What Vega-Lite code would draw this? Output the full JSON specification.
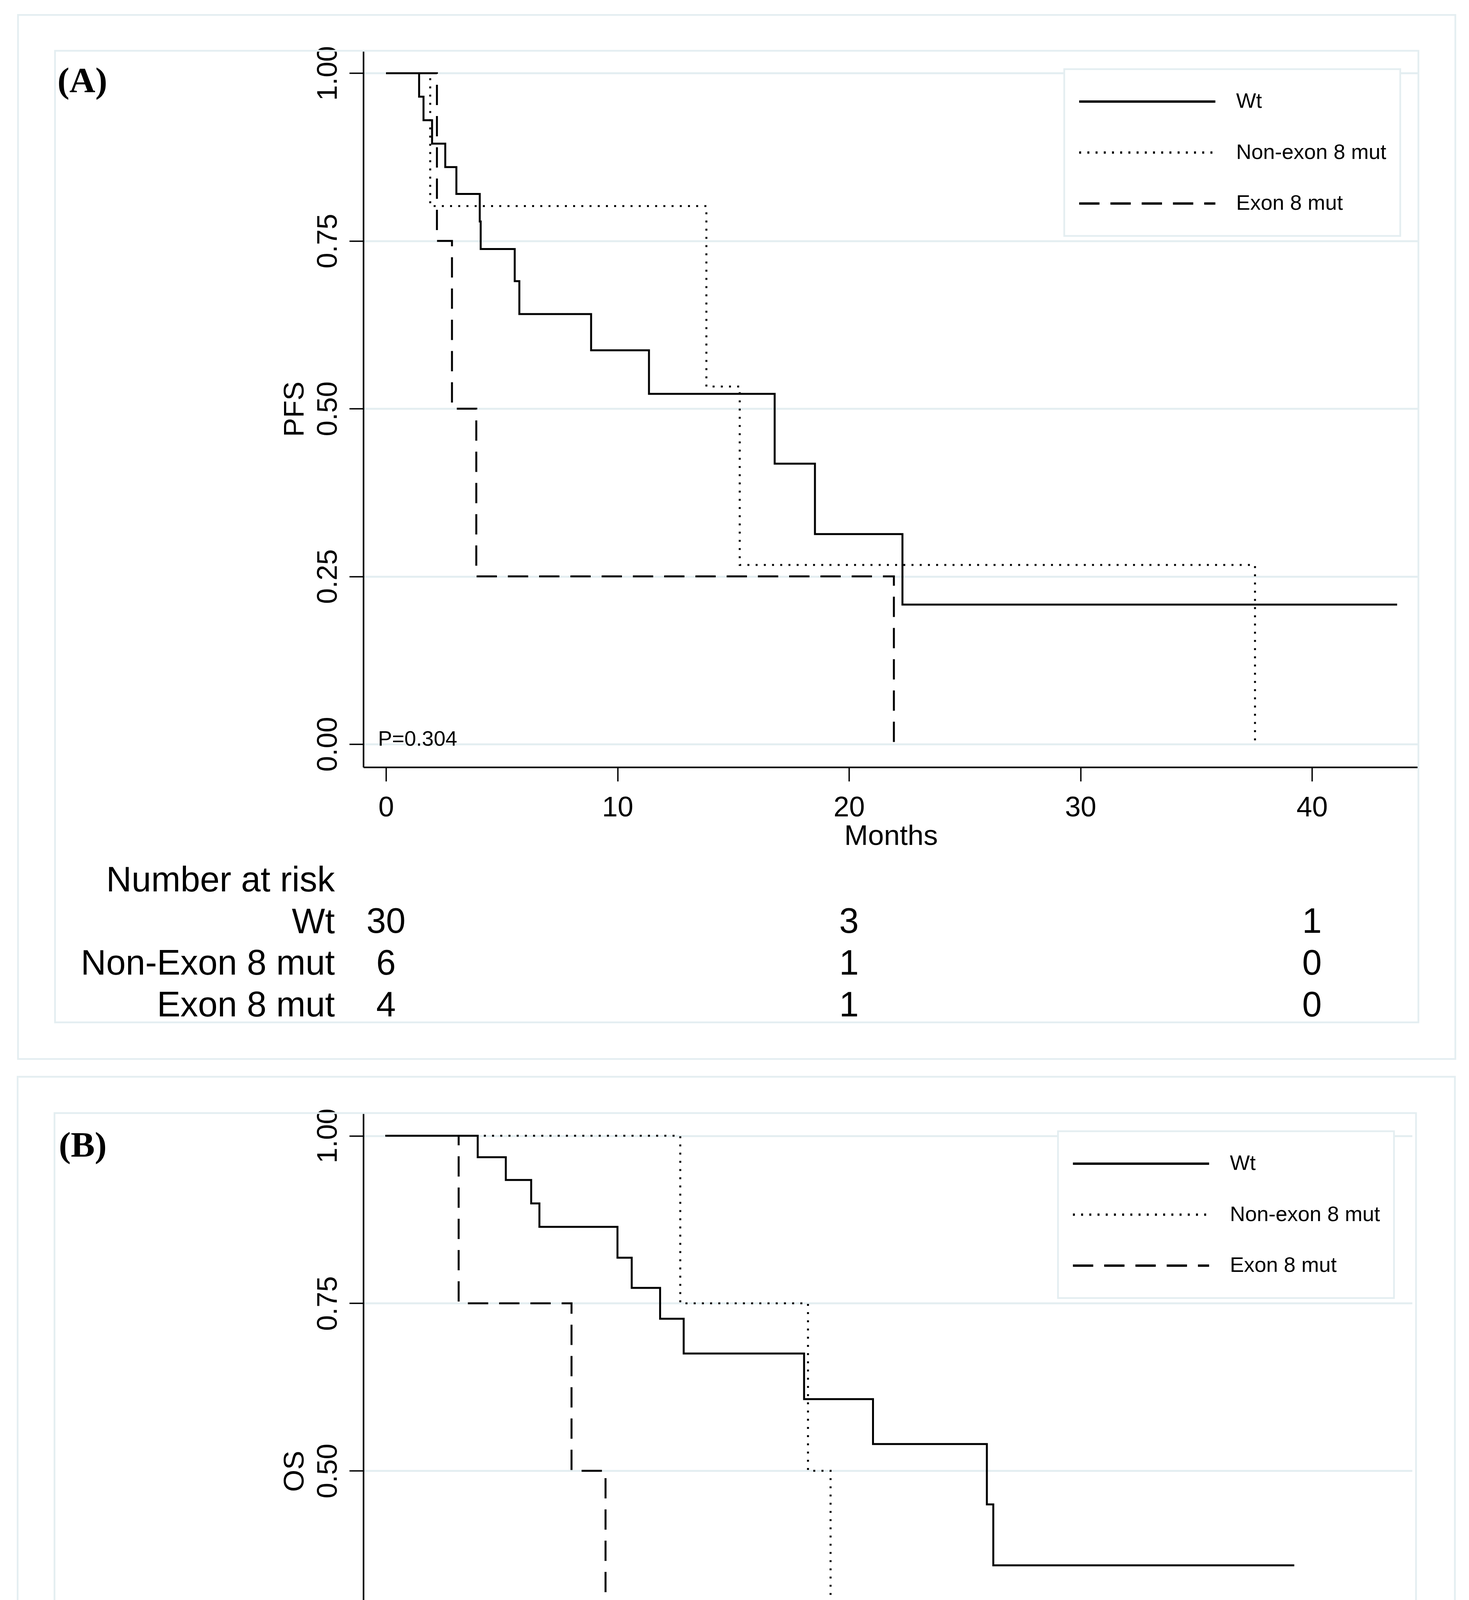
{
  "$schema": "https://vega.github.io/schema/vega-lite/v6.json",
  "background": "white",
  "padding": 0,
  "autosize": {"type": "pad"},
  "datasets": {
    "one": [{}],
    "kmA": [
      {"group": "Wt", "t": 0, "s": 1},
      {"group": "Wt", "t": 1.43, "s": 0.965},
      {"group": "Wt", "t": 1.62, "s": 0.930},
      {"group": "Wt", "t": 1.99, "s": 0.895},
      {"group": "Wt", "t": 2.56, "s": 0.860},
      {"group": "Wt", "t": 3.04, "s": 0.820},
      {"group": "Wt", "t": 4.05, "s": 0.779},
      {"group": "Wt", "t": 4.09, "s": 0.738},
      {"group": "Wt", "t": 5.56, "s": 0.690},
      {"group": "Wt", "t": 5.76, "s": 0.641},
      {"group": "Wt", "t": 8.86, "s": 0.587},
      {"group": "Wt", "t": 11.36, "s": 0.522},
      {"group": "Wt", "t": 16.79, "s": 0.418},
      {"group": "Wt", "t": 18.53, "s": 0.313},
      {"group": "Wt", "t": 22.31, "s": 0.208},
      {"group": "Wt", "t": 43.68, "s": 0.208},
      {"group": "Non-exon 8 mut", "t": 0, "s": 1},
      {"group": "Non-exon 8 mut", "t": 1.91, "s": 0.802},
      {"group": "Non-exon 8 mut", "t": 13.84, "s": 0.533},
      {"group": "Non-exon 8 mut", "t": 15.28, "s": 0.267},
      {"group": "Non-exon 8 mut", "t": 37.54, "s": 0},
      {"group": "Exon 8 mut", "t": 0, "s": 1},
      {"group": "Exon 8 mut", "t": 2.2, "s": 0.75},
      {"group": "Exon 8 mut", "t": 2.85, "s": 0.5},
      {"group": "Exon 8 mut", "t": 3.9, "s": 0.25},
      {"group": "Exon 8 mut", "t": 21.94, "s": 0}
    ],
    "kmB": [
      {"group": "Wt", "t": 0, "s": 1},
      {"group": "Wt", "t": 9.2, "s": 0.968},
      {"group": "Wt", "t": 12.0, "s": 0.934},
      {"group": "Wt", "t": 14.53, "s": 0.899},
      {"group": "Wt", "t": 15.35, "s": 0.864},
      {"group": "Wt", "t": 23.13, "s": 0.818},
      {"group": "Wt", "t": 24.55, "s": 0.773},
      {"group": "Wt", "t": 27.38, "s": 0.727},
      {"group": "Wt", "t": 29.73, "s": 0.675},
      {"group": "Wt", "t": 41.73, "s": 0.607},
      {"group": "Wt", "t": 48.6, "s": 0.540},
      {"group": "Wt", "t": 59.95, "s": 0.450},
      {"group": "Wt", "t": 60.59, "s": 0.359},
      {"group": "Wt", "t": 90.59, "s": 0.359},
      {"group": "Non-exon 8 mut", "t": 0, "s": 1},
      {"group": "Non-exon 8 mut", "t": 29.39, "s": 0.75},
      {"group": "Non-exon 8 mut", "t": 42.12, "s": 0.5},
      {"group": "Non-exon 8 mut", "t": 44.37, "s": 0},
      {"group": "Exon 8 mut", "t": 0, "s": 1},
      {"group": "Exon 8 mut", "t": 7.3, "s": 0.75},
      {"group": "Exon 8 mut", "t": 18.55, "s": 0.5},
      {"group": "Exon 8 mut", "t": 21.94, "s": 0.25},
      {"group": "Exon 8 mut", "t": 39.19, "s": 0.25}
    ],
    "riskA": [
      {"row": "Wt", "t": 0, "n": 30},
      {"row": "Wt", "t": 20, "n": 3},
      {"row": "Wt", "t": 40, "n": 1},
      {"row": "Non-Exon 8 mut", "t": 0, "n": 6},
      {"row": "Non-Exon 8 mut", "t": 20, "n": 1},
      {"row": "Non-Exon 8 mut", "t": 40, "n": 0},
      {"row": "Exon 8 mut", "t": 0, "n": 4},
      {"row": "Exon 8 mut", "t": 20, "n": 1},
      {"row": "Exon 8 mut", "t": 40, "n": 0}
    ],
    "riskB": [
      {"row": "Wt", "t": 0, "n": 31},
      {"row": "Wt", "t": 20, "n": 20},
      {"row": "Wt", "t": 40, "n": 11},
      {"row": "Wt", "t": 60, "n": 5},
      {"row": "Wt", "t": 80, "n": 2},
      {"row": "Wt", "t": 100, "n": 0},
      {"row": "Non-Exon 8 mut", "t": 0, "n": 6},
      {"row": "Non-Exon 8 mut", "t": 20, "n": 4},
      {"row": "Non-Exon 8 mut", "t": 40, "n": 3},
      {"row": "Non-Exon 8 mut", "t": 60, "n": 0},
      {"row": "Non-Exon 8 mut", "t": 80, "n": 0},
      {"row": "Non-Exon 8 mut", "t": 100, "n": 0},
      {"row": "Exon 8 mut", "t": 0, "n": 4},
      {"row": "Exon 8 mut", "t": 20, "n": 2},
      {"row": "Exon 8 mut", "t": 40, "n": 0},
      {"row": "Exon 8 mut", "t": 60, "n": 0},
      {"row": "Exon 8 mut", "t": 80, "n": 0},
      {"row": "Exon 8 mut", "t": 100, "n": 0}
    ],
    "pA": [{"label": "P=0.304"}],
    "pB": [{"label": "P=0.044"}],
    "labA": [{"label": "(A)"}],
    "labB": [{"label": "(B)"}]
  },
  "vconcat": [
    {
      "width": 2700.5,
      "height": 1834,
      "layer": [
        {
          "data": {"name": "one"},
          "mark": {"type": "rect", "opacity": 0},
          "encoding": {
            "x": {"datum": -16.667, "type": "quantitative", "scale": {"domain": [-0.979, 44.599], "nice": false, "zero": false}, "axis": {"title": "Months", "values": [0, 10, 20, 30, 40], "format": "d", "grid": false, "labelFlush": false, "labelPadding": 32, "titlePadding": 1}},
            "x2": {"datum": 46.793},
            "y": {"datum": 1.10912, "type": "quantitative", "scale": {"domain": [-0.03442, 1.03343], "nice": false, "zero": false}, "axis": {"title": "PFS", "values": [0, 0.25, 0.5, 0.75, 1], "format": ".2f", "grid": true, "labelAngle": 270, "labelAlign": "center", "labelBaseline": "alphabetic", "labelPadding": 32.5, "titleAngle": 270, "titleBaseline": "alphabetic", "titlePadding": 27, "labelFlush": false, "labelOverlap": false}},
            "y2": {"datum": -2.07166}
          }
        },
        {
          "data": {"name": "one"},
          "mark": {"type": "rect", "fill": "transparent", "stroke": "#E4EEF1", "strokeWidth": 4.5},
          "encoding": {
            "x": {"datum": -15.897, "type": "quantitative", "scale": {"domain": [-0.979, 44.599], "nice": false, "zero": false}, "axis": {"title": "Months", "values": [0, 10, 20, 30, 40], "format": "d", "grid": false, "labelFlush": false, "labelPadding": 32, "titlePadding": 1}},
            "x2": {"datum": 46.194},
            "y": {"datum": 1.08682, "type": "quantitative", "scale": {"domain": [-0.03442, 1.03343], "nice": false, "zero": false}, "axis": {"title": "PFS", "values": [0, 0.25, 0.5, 0.75, 1], "format": ".2f", "grid": true, "labelAngle": 270, "labelAlign": "center", "labelBaseline": "alphabetic", "labelPadding": 32.5, "titleAngle": 270, "titleBaseline": "alphabetic", "titlePadding": 27, "labelFlush": false, "labelOverlap": false}},
            "y2": {"datum": -0.46934}
          }
        },
        {
          "data": {"name": "one"},
          "mark": {"type": "rect", "fill": "transparent", "stroke": "#E4EEF1", "strokeWidth": 4.5},
          "encoding": {
            "x": {"datum": -14.299, "type": "quantitative", "scale": {"domain": [-0.979, 44.599], "nice": false, "zero": false}, "axis": {"title": "Months", "values": [0, 10, 20, 30, 40], "format": "d", "grid": false, "labelFlush": false, "labelPadding": 32, "titlePadding": 1}},
            "x2": {"datum": 44.599},
            "y": {"datum": 1.03343, "type": "quantitative", "scale": {"domain": [-0.03442, 1.03343], "nice": false, "zero": false}, "axis": {"title": "PFS", "values": [0, 0.25, 0.5, 0.75, 1], "format": ".2f", "grid": true, "labelAngle": 270, "labelAlign": "center", "labelBaseline": "alphabetic", "labelPadding": 32.5, "titleAngle": 270, "titleBaseline": "alphabetic", "titlePadding": 27, "labelFlush": false, "labelOverlap": false}},
            "y2": {"datum": -0.41484}
          }
        },
        {
          "data": {"name": "kmA"},
          "mark": {"type": "line", "interpolate": "step-after", "strokeWidth": 5, "color": "#000000"},
          "encoding": {
            "x": {"field": "t", "type": "quantitative", "scale": {"domain": [-0.979, 44.599], "nice": false, "zero": false}, "axis": {"title": "Months", "values": [0, 10, 20, 30, 40], "format": "d", "grid": false, "labelFlush": false, "labelPadding": 32, "titlePadding": 1}},
            "y": {"field": "s", "type": "quantitative", "scale": {"domain": [-0.03442, 1.03343], "nice": false, "zero": false}, "axis": {"title": "PFS", "values": [0, 0.25, 0.5, 0.75, 1], "format": ".2f", "grid": true, "labelAngle": 270, "labelAlign": "center", "labelBaseline": "alphabetic", "labelPadding": 32.5, "titleAngle": 270, "titleBaseline": "alphabetic", "titlePadding": 27, "labelFlush": false, "labelOverlap": false}},
            "strokeDash": {"field": "group", "type": "nominal", "scale": {"domain": ["Wt", "Non-exon 8 mut", "Exon 8 mut"], "range": [[1, 0], [5, 16], [52, 28]]}, "legend": {"title": null, "encode": {"legend": {"update": {"strokeWidth": {"value": 4.5}}}}}}
          }
        },
        {
          "data": {"name": "pA"},
          "mark": {"type": "text", "align": "left", "baseline": "alphabetic", "fontSize": 54, "font": "Liberation Sans", "color": "#000000"},
          "encoding": {
            "text": {"field": "label"},
            "x": {"datum": -0.346, "type": "quantitative", "scale": {"domain": [-0.979, 44.599], "nice": false, "zero": false}, "axis": {"title": "Months", "values": [0, 10, 20, 30, 40], "format": "d", "grid": false, "labelFlush": false, "labelPadding": 32, "titlePadding": 1}},
            "y": {"datum": -0.00267, "type": "quantitative", "scale": {"domain": [-0.03442, 1.03343], "nice": false, "zero": false}, "axis": {"title": "PFS", "values": [0, 0.25, 0.5, 0.75, 1], "format": ".2f", "grid": true, "labelAngle": 270, "labelAlign": "center", "labelBaseline": "alphabetic", "labelPadding": 32.5, "titleAngle": 270, "titleBaseline": "alphabetic", "titlePadding": 27, "labelFlush": false, "labelOverlap": false}}
          }
        },
        {
          "data": {"name": "labA"},
          "mark": {"type": "text", "align": "left", "baseline": "alphabetic", "fontSize": 92, "font": "Liberation Serif", "fontWeight": "bold", "color": "#000000"},
          "encoding": {
            "text": {"field": "label"},
            "x": {"datum": -14.196, "type": "quantitative", "scale": {"domain": [-0.979, 44.599], "nice": false, "zero": false}, "axis": {"title": "Months", "values": [0, 10, 20, 30, 40], "format": "d", "grid": false, "labelFlush": false, "labelPadding": 32, "titlePadding": 1}},
            "y": {"datum": 0.97171, "type": "quantitative", "scale": {"domain": [-0.03442, 1.03343], "nice": false, "zero": false}, "axis": {"title": "PFS", "values": [0, 0.25, 0.5, 0.75, 1], "format": ".2f", "grid": true, "labelAngle": 270, "labelAlign": "center", "labelBaseline": "alphabetic", "labelPadding": 32.5, "titleAngle": 270, "titleBaseline": "alphabetic", "titlePadding": 27, "labelFlush": false, "labelOverlap": false}}
          }
        }
      ]
    },
    {
      "width": 2700.5,
      "height": 390.5,
      "data": {"name": "riskA"},
      "mark": {"type": "text", "fontSize": 90, "baseline": "alphabetic", "align": "center", "color": "#000000", "font": "Liberation Sans"},
      "encoding": {
        "x": {"field": "t", "type": "quantitative", "scale": {"domain": [-0.979, 44.599], "nice": false, "zero": false}, "axis": null},
        "y": {"field": "row", "type": "nominal", "scale": {"type": "point", "domain": ["Number at risk", "Wt", "Non-Exon 8 mut", "Exon 8 mut"], "padding": 0.33333, "align": 1}, "axis": {"title": null, "domain": false, "ticks": false, "tickSize": 0, "grid": false, "labelAngle": 0, "labelAlign": "right", "labelBaseline": "alphabetic", "labelFontSize": 90, "labelPadding": 73.5, "labelLimit": 2000, "labelColor": "#000000", "labelFont": "Liberation Sans"}},
        "text": {"field": "n", "type": "quantitative", "format": "d"}
      }
    },
    {
      "width": 2684.5,
      "height": 1834,
      "layer": [
        {
          "data": {"name": "one"},
          "mark": {"type": "rect", "fill": "transparent", "stroke": "#E4EEF1", "strokeWidth": 4.5},
          "encoding": {
            "x": {"datum": -36.659, "type": "quantitative", "scale": {"domain": [-2.2, 102.34], "nice": false, "zero": false}, "axis": {"title": "Months", "values": [0, 20, 40, 60, 80, 100], "format": "d", "grid": false, "labelFlush": false, "labelPadding": 32, "titlePadding": 1}},
            "x2": {"datum": 106.601},
            "y": {"datum": 1.08801, "type": "quantitative", "scale": {"domain": [-0.03485, 1.0341], "nice": false, "zero": false}, "axis": {"title": "OS", "values": [0, 0.25, 0.5, 0.75, 1], "format": ".2f", "grid": true, "labelAngle": 270, "labelAlign": "center", "labelBaseline": "alphabetic", "labelPadding": 32.5, "titleAngle": 270, "titleBaseline": "alphabetic", "titlePadding": 27, "labelFlush": false, "labelOverlap": false}},
            "y2": {"datum": -0.46972}
          }
        },
        {
          "data": {"name": "one"},
          "mark": {"type": "rect", "fill": "transparent", "stroke": "#E4EEF1", "strokeWidth": 4.5},
          "encoding": {
            "x": {"datum": -32.983, "type": "quantitative", "scale": {"domain": [-2.2, 102.34], "nice": false, "zero": false}, "axis": {"title": "Months", "values": [0, 20, 40, 60, 80, 100], "format": "d", "grid": false, "labelFlush": false, "labelPadding": 32, "titlePadding": 1}},
            "x2": {"datum": 102.726},
            "y": {"datum": 1.03381, "type": "quantitative", "scale": {"domain": [-0.03485, 1.0341], "nice": false, "zero": false}, "axis": {"title": "OS", "values": [0, 0.25, 0.5, 0.75, 1], "format": ".2f", "grid": true, "labelAngle": 270, "labelAlign": "center", "labelBaseline": "alphabetic", "labelPadding": 32.5, "titleAngle": 270, "titleBaseline": "alphabetic", "titlePadding": 27, "labelFlush": false, "labelOverlap": false}},
            "y2": {"datum": -0.41516}
          }
        },
        {
          "data": {"name": "kmB"},
          "mark": {"type": "line", "interpolate": "step-after", "strokeWidth": 5, "color": "#000000"},
          "encoding": {
            "x": {"field": "t", "type": "quantitative", "scale": {"domain": [-2.2, 102.34], "nice": false, "zero": false}, "axis": {"title": "Months", "values": [0, 20, 40, 60, 80, 100], "format": "d", "grid": false, "labelFlush": false, "labelPadding": 32, "titlePadding": 1}},
            "y": {"field": "s", "type": "quantitative", "scale": {"domain": [-0.03485, 1.0341], "nice": false, "zero": false}, "axis": {"title": "OS", "values": [0, 0.25, 0.5, 0.75, 1], "format": ".2f", "grid": true, "labelAngle": 270, "labelAlign": "center", "labelBaseline": "alphabetic", "labelPadding": 32.5, "titleAngle": 270, "titleBaseline": "alphabetic", "titlePadding": 27, "labelFlush": false, "labelOverlap": false}},
            "strokeDash": {"field": "group", "type": "nominal", "scale": {"domain": ["Wt", "Non-exon 8 mut", "Exon 8 mut"], "range": [[1, 0], [5, 16], [52, 28]]}, "legend": {"title": null, "encode": {"legend": {"update": {"strokeWidth": {"value": 4.5}}}}}}
          }
        },
        {
          "data": {"name": "pB"},
          "mark": {"type": "text", "align": "left", "baseline": "alphabetic", "fontSize": 54, "font": "Liberation Sans", "color": "#000000"},
          "encoding": {
            "text": {"field": "label"},
            "x": {"datum": -2.648, "type": "quantitative", "scale": {"domain": [-2.2, 102.34], "nice": false, "zero": false}, "axis": {"title": "Months", "values": [0, 20, 40, 60, 80, 100], "format": "d", "grid": false, "labelFlush": false, "labelPadding": 32, "titlePadding": 1}},
            "y": {"datum": -0.00367, "type": "quantitative", "scale": {"domain": [-0.03485, 1.0341], "nice": false, "zero": false}, "axis": {"title": "OS", "values": [0, 0.25, 0.5, 0.75, 1], "format": ".2f", "grid": true, "labelAngle": 270, "labelAlign": "center", "labelBaseline": "alphabetic", "labelPadding": 32.5, "titleAngle": 270, "titleBaseline": "alphabetic", "titlePadding": 27, "labelFlush": false, "labelOverlap": false}}
          }
        },
        {
          "data": {"name": "labB"},
          "mark": {"type": "text", "align": "left", "baseline": "alphabetic", "fontSize": 92, "font": "Liberation Serif", "fontWeight": "bold", "color": "#000000"},
          "encoding": {
            "text": {"field": "label"},
            "x": {"datum": -32.555, "type": "quantitative", "scale": {"domain": [-2.2, 102.34], "nice": false, "zero": false}, "axis": {"title": "Months", "values": [0, 20, 40, 60, 80, 100], "format": "d", "grid": false, "labelFlush": false, "labelPadding": 32, "titlePadding": 1}},
            "y": {"datum": 0.96911, "type": "quantitative", "scale": {"domain": [-0.03485, 1.0341], "nice": false, "zero": false}, "axis": {"title": "OS", "values": [0, 0.25, 0.5, 0.75, 1], "format": ".2f", "grid": true, "labelAngle": 270, "labelAlign": "center", "labelBaseline": "alphabetic", "labelPadding": 32.5, "titleAngle": 270, "titleBaseline": "alphabetic", "titlePadding": 27, "labelFlush": false, "labelOverlap": false}}
          }
        }
      ]
    },
    {
      "width": 2684.5,
      "height": 390.5,
      "data": {"name": "riskB"},
      "mark": {"type": "text", "fontSize": 90, "baseline": "alphabetic", "align": "center", "color": "#000000", "font": "Liberation Sans"},
      "encoding": {
        "x": {"field": "t", "type": "quantitative", "scale": {"domain": [-2.2, 102.34], "nice": false, "zero": false}, "axis": null},
        "y": {"field": "row", "type": "nominal", "scale": {"type": "point", "domain": ["Number at risk", "Wt", "Non-Exon 8 mut", "Exon 8 mut"], "padding": 0.33333, "align": 1}, "axis": {"title": null, "domain": false, "ticks": false, "tickSize": 0, "grid": false, "labelAngle": 0, "labelAlign": "right", "labelBaseline": "alphabetic", "labelFontSize": 90, "labelPadding": 73.5, "labelLimit": 2000, "labelColor": "#000000", "labelFont": "Liberation Sans"}},
        "text": {"field": "n", "type": "quantitative", "format": "d"}
      }
    }
  ],
  "spacing": 247,
  "bounds": "flush",
  "resolve": {
    "scale": {"x": "independent", "y": "independent", "strokeDash": "independent"},
    "legend": {"strokeDash": "independent"}
  },
  "config": {
    "font": "Liberation Sans",
    "view": {"stroke": null},
    "axis": {
      "domainColor": "#000000",
      "domainWidth": 4,
      "tickColor": "#000000",
      "tickWidth": 3.5,
      "tickSize": 36,
      "labelColor": "#000000",
      "labelFont": "Liberation Sans",
      "labelFontSize": 72,
      "titleColor": "#000000",
      "titleFont": "Liberation Sans",
      "titleFontSize": 73,
      "titleFontWeight": "normal",
      "gridColor": "#E4EEF1",
      "gridWidth": 5
    },
    "legend": {
      "orient": "top-right",
      "offset": 47,
      "padding": 35,
      "fillColor": "#FFFFFF",
      "strokeColor": "#E4EEF1",
      "symbolType": "stroke",
      "symbolSize": 121500,
      "symbolStrokeWidth": 6,
      "symbolStrokeColor": "#000000",
      "labelFontSize": 54,
      "labelFont": "Liberation Sans",
      "labelColor": "#000000",
      "labelOffset": 50,
      "labelLimit": 1200,
      "clipHeight": 96,
      "rowPadding": 34.5
    }
  }
}
